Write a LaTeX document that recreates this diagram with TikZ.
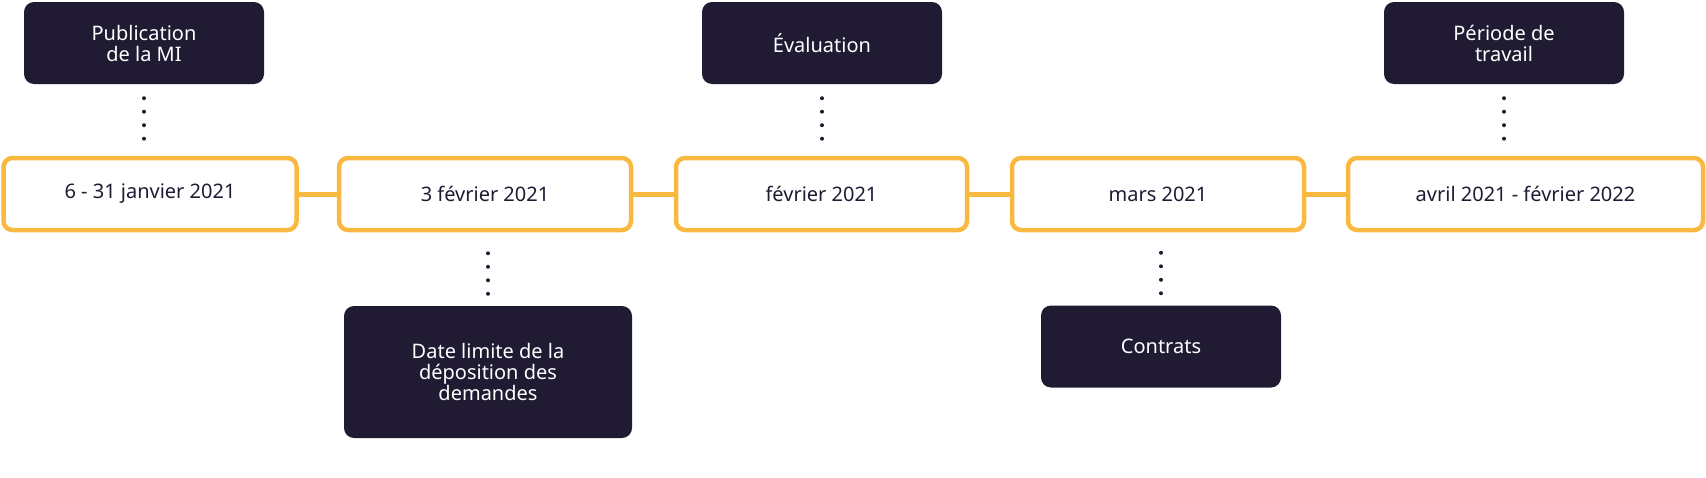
\documentclass[tikz,border=0pt]{standalone}
\usepackage{fontspec}
\setmainfont{Noto Sans}
\usetikzlibrary{positioning}
\definecolor{navy}{HTML}{201B33}
\definecolor{gold}{HTML}{F9B941}
\tikzset{
  datebox/.style={draw=gold,line width=4.5pt,fill=white,rounded corners=9pt,
    minimum height=72pt,inner sep=0pt,font=\fontsize{20}{24}\selectfont\bfseries,text=navy},
  eventbox/.style={fill=navy,rounded corners=10pt,inner sep=0pt,minimum width=240pt,
    text=white,align=center,font=\fontsize{20}{24}\selectfont\bfseries},
  link/.style={draw=gold,line width=5pt},
  dots/.style={draw=navy,line width=4pt,line cap=round,dash pattern=on 0pt off 13.5pt}
}
\begin{document}
\begin{tikzpicture}[x=1pt,y=-1pt]
\useasboundingbox (0,0) rectangle (1706,477);
% timeline
\node [datebox,minimum width=293pt] (d1) at (150,194) {6 - 31 janvier 2021};
\node [datebox,minimum width=292pt] (d2) at (485,194) {3 février 2021};
\node [datebox,minimum width=291pt] (d3) at (821.5,194) {février 2021};
\node [datebox,minimum width=292pt] (d4) at (1158,194) {mars 2021};
\node [datebox,minimum width=355pt] (d5) at (1525.5,194) {avril 2021 - février 2022};
\foreach \a/\b in {d1/d2,d2/d3,d3/d4,d4/d5}
  \draw [link] (\a) -- (\b);
% events
\node [eventbox,minimum height=82pt] (e1) at (144,43) {Publication\\[-3pt]de la MI};
\node [eventbox,minimum height=82pt] (e3) at (822,43) {Évaluation};
\node [eventbox,minimum height=82pt] (e5) at (1504,43) {Période de\\[-3pt]travail};
\node [eventbox,minimum height=132pt,minimum width=288pt] (e2) at (488,372) {Date limite de la\\[-3pt]déposition des\\[-3pt]demandes};
\node [eventbox,minimum height=82pt] (e4) at (1161,346.5) {Contrats};
\draw [dots] ([yshift=-14pt]e1.south) -- ([yshift=6pt]e1.south |- d1.north);
\draw [dots] ([yshift=-14pt]e3.south) -- ([yshift=6pt]e3.south |- d3.north);
\draw [dots] ([yshift=-14pt]e5.south) -- ([yshift=6pt]e5.south |- d5.north);
\draw [dots] ([yshift=12pt]e2.north) -- ([yshift=-8pt]e2.north |- d2.south);
\draw [dots] ([yshift=12pt]e4.north) -- ([yshift=-8pt]e4.north |- d4.south);
\end{tikzpicture}
\end{document}
